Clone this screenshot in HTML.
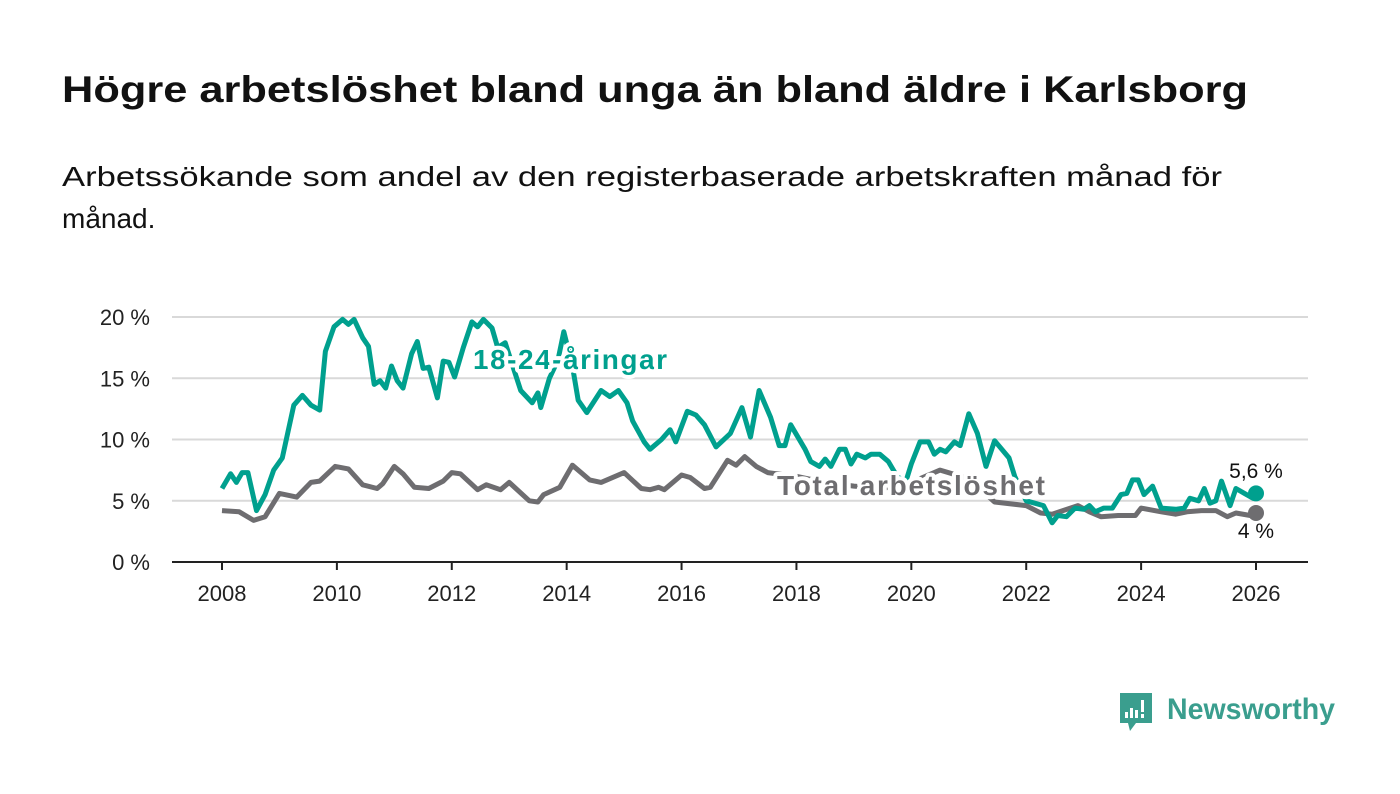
<!DOCTYPE html>
<html><head><meta charset="utf-8"><style>
html,body{margin:0;padding:0;background:#fff;width:1400px;height:794px;overflow:hidden}
svg{display:block;font-family:"Liberation Sans",sans-serif}
</style></head><body>
<svg id="chart" width="1400" height="794" viewBox="0 0 1400 794">
<text x="62" y="102" font-size="37" font-weight="bold" fill="#111" textLength="1186" lengthAdjust="spacingAndGlyphs">Högre arbetslöshet bland unga än bland äldre i Karlsborg</text>
<text x="62" y="186" font-size="28" fill="#111" textLength="1160" lengthAdjust="spacingAndGlyphs">Arbetssökande som andel av den registerbaserade arbetskraften månad för</text>
<text x="62" y="228" font-size="28" fill="#111">månad.</text>
<g id="grid"></g>
<g id="yticks"></g>
<g id="xticks"></g>
<g id="lines"></g>
<g id="labels"></g>
<g>
<path d="M1120 693 h32 v30 h-16 l-6 8 l-2 -8 h-8 z" fill="#3a9e8e"/>
<rect x="1125" y="712" width="3" height="6" fill="#fff"/><rect x="1130" y="708" width="3" height="10" fill="#fff"/><rect x="1135" y="710" width="3" height="8" fill="#fff"/><rect x="1141" y="700" width="3" height="12" fill="#fff"/><rect x="1141" y="714" width="3" height="4" fill="#fff"/>
<text x="1167" y="719" font-size="30" font-weight="bold" fill="#3a9e8e" textLength="168" lengthAdjust="spacingAndGlyphs">Newsworthy</text>
</g>
</svg>
<script>
const yTicks=[0,5,10,15,20];
const yTickLabels=["0 %","5 %","10 %","15 %","20 %"];
const xTicks=[2008,2010,2012,2014,2016,2018,2020,2022,2024,2026];
const youthDates=[2008.0,2008.15,2008.25,2008.35,2008.45,2008.6,2008.75,2008.9,2009.05,2009.25,2009.4,2009.55,2009.7,2009.8,2009.95,2010.1,2010.2,2010.3,2010.45,2010.55,2010.65,2010.75,2010.85,2010.95,2011.05,2011.15,2011.3,2011.4,2011.5,2011.6,2011.75,2011.85,2011.95,2012.05,2012.2,2012.35,2012.45,2012.55,2012.7,2012.8,2012.93,2013.2,2013.4,2013.5,2013.55,2013.7,2013.85,2013.95,2014.1,2014.2,2014.35,2014.6,2014.75,2014.9,2015.05,2015.15,2015.35,2015.45,2015.65,2015.8,2015.9,2016.1,2016.25,2016.4,2016.6,2016.85,2017.05,2017.2,2017.35,2017.55,2017.7,2017.8,2017.9,2018.15,2018.25,2018.4,2018.5,2018.6,2018.75,2018.85,2018.95,2019.05,2019.2,2019.3,2019.45,2019.6,2019.75,2019.9,2020.0,2020.15,2020.3,2020.4,2020.5,2020.6,2020.75,2020.85,2021.0,2021.15,2021.3,2021.45,2021.7,2021.8,2022.0,2022.15,2022.3,2022.45,2022.55,2022.7,2022.85,2023.0,2023.1,2023.2,2023.35,2023.5,2023.65,2023.75,2023.85,2023.95,2024.05,2024.2,2024.35,2024.6,2024.75,2024.85,2025.0,2025.1,2025.2,2025.3,2025.4,2025.55,2025.65,2025.8,2025.95,2026.0];
const youthValues=[6,7.2,6.5,7.3,7.3,4.2,5.5,7.5,8.5,12.8,13.6,12.8,12.4,17.2,19.2,19.8,19.4,19.8,18.3,17.6,14.5,14.8,14.2,16,14.8,14.2,17,18,15.8,15.9,13.4,16.4,16.3,15.1,17.5,19.6,19.2,19.8,19.1,17.5,17.9,14,13,13.8,12.6,15,16.5,18.8,16,13.2,12.2,14,13.5,14,13,11.5,9.8,9.2,10,10.8,9.8,12.3,12,11.2,9.4,10.5,12.6,10.2,14,11.8,9.5,9.5,11.2,9.2,8.2,7.8,8.4,7.8,9.2,9.2,8,8.8,8.5,8.8,8.8,8.2,7,6.5,8,9.8,9.8,8.8,9.2,9,9.8,9.5,12.1,10.5,7.8,9.9,8.5,7,5,4.8,4.6,3.2,3.8,3.7,4.4,4.3,4.6,4.1,4.4,4.4,5.5,5.6,6.7,6.7,5.5,6.2,4.4,4.3,4.4,5.2,5,6,4.8,5,6.6,4.6,6,5.6,5.2,5.6];
const totalDates=[2008.0,2008.3,2008.55,2008.75,2009.0,2009.3,2009.55,2009.7,2009.97,2010.2,2010.45,2010.7,2010.8,2011.0,2011.15,2011.35,2011.6,2011.85,2012.0,2012.15,2012.45,2012.6,2012.85,2013.0,2013.35,2013.5,2013.6,2013.88,2014.1,2014.4,2014.6,2015.0,2015.3,2015.45,2015.6,2015.7,2016.0,2016.15,2016.4,2016.5,2016.8,2016.95,2017.1,2017.3,2017.5,2018.0,2018.5,2019.0,2019.5,2020.0,2020.5,2021.0,2021.45,2022.0,2022.25,2022.45,2022.9,2023.1,2023.3,2023.6,2023.9,2024.0,2024.35,2024.6,2024.8,2025.05,2025.3,2025.5,2025.65,2025.9,2026.0];
const totalValues=[4.2,4.1,3.4,3.7,5.6,5.3,6.5,6.6,7.8,7.6,6.3,6.0,6.4,7.8,7.2,6.1,6.0,6.6,7.3,7.2,5.9,6.3,5.9,6.5,5.0,4.9,5.5,6.1,7.9,6.7,6.5,7.3,6.0,5.9,6.1,5.9,7.1,6.9,6.0,6.1,8.3,7.9,8.6,7.8,7.3,7.0,6.5,6.2,6.0,6.5,7.5,6.8,4.9,4.6,4.0,3.9,4.6,4.1,3.7,3.8,3.8,4.4,4.1,3.9,4.1,4.2,4.2,3.7,4.0,3.8,4.0];
const NS="http://www.w3.org/2000/svg";
const X=v=>222+(v-2008)*(1256-222)/18;
const Y=v=>562-v*(562-317)/20;
function mk(tag,parent,attrs){const e=document.createElementNS(NS,tag);for(const k in attrs)e.setAttribute(k,attrs[k]);document.getElementById(parent).appendChild(e);return e;}
yTicks.forEach((t,i)=>{
 if(t>0){const g=mk('line','grid',{x1:172,x2:1308,y1:Y(t),y2:Y(t),stroke:'#d9d9d9','stroke-width':2});
 
 }
 const l=mk('text','yticks',{x:150,y:Y(t)+8,'font-size':22,fill:'#222','text-anchor':'end'});
 
 
 l.textContent=yTickLabels[i];
});
const ax=mk('line','xticks',{x1:172,x2:1308,y1:562,y2:562,stroke:'#222','stroke-width':2});


xTicks.forEach(t=>{
 const tk=mk('line','xticks',{x1:X(t),x2:X(t),y1:562,y2:570,stroke:'#222','stroke-width':2});
 
 
 const l=mk('text','xticks',{x:X(t),y:601,'font-size':22,fill:'#222','text-anchor':'middle'});
 
 
 l.textContent=t;
});
function pts(d,v){return d.map((x,i)=>X(x).toFixed(1)+','+Y(v[i]).toFixed(1)).join(' ');}
const tl=mk('polyline','lines',{points:pts(totalDates,totalValues),fill:'none',stroke:'#6e6d70','stroke-width':5,'stroke-linejoin':'round'});


const yl=mk('polyline','lines',{points:pts(youthDates,youthValues),fill:'none',stroke:'#00a08e','stroke-width':5,'stroke-linejoin':'round'});


const ty=totalValues[totalValues.length-1], yy=youthValues[youthValues.length-1];
const td=mk('circle','lines',{cx:X(2026),cy:Y(ty),r:8,fill:'#6e6d70'});


const yd=mk('circle','lines',{cx:X(2026),cy:Y(yy),r:8,fill:'#00a08e'});


function lab(name,txt,x,y,size,fill,bold,anchor){
 const t=mk('text','labels',{x:x,y:y,'font-size':size,fill:fill,'font-weight':bold?'bold':'normal','text-anchor':anchor||'start',stroke:'#fff','stroke-width':bold?8:5,'paint-order':'stroke','stroke-linejoin':'round'});
 
 
 t.textContent=txt;return t;}
lab('youth-series-label','18-24-åringar',473,369,28,'#00a08e',true).setAttribute('textLength',194);
lab('total-series-label','Total arbetslöshet',777,495,28,'#6e6d70',true).setAttribute('textLength',268);
lab('youth-end-value','5,6 %',1256,478,21,'#111',false,'middle');
lab('total-end-value','4 %',1256,538,21,'#111',false,'middle');
</script>
</body></html>
